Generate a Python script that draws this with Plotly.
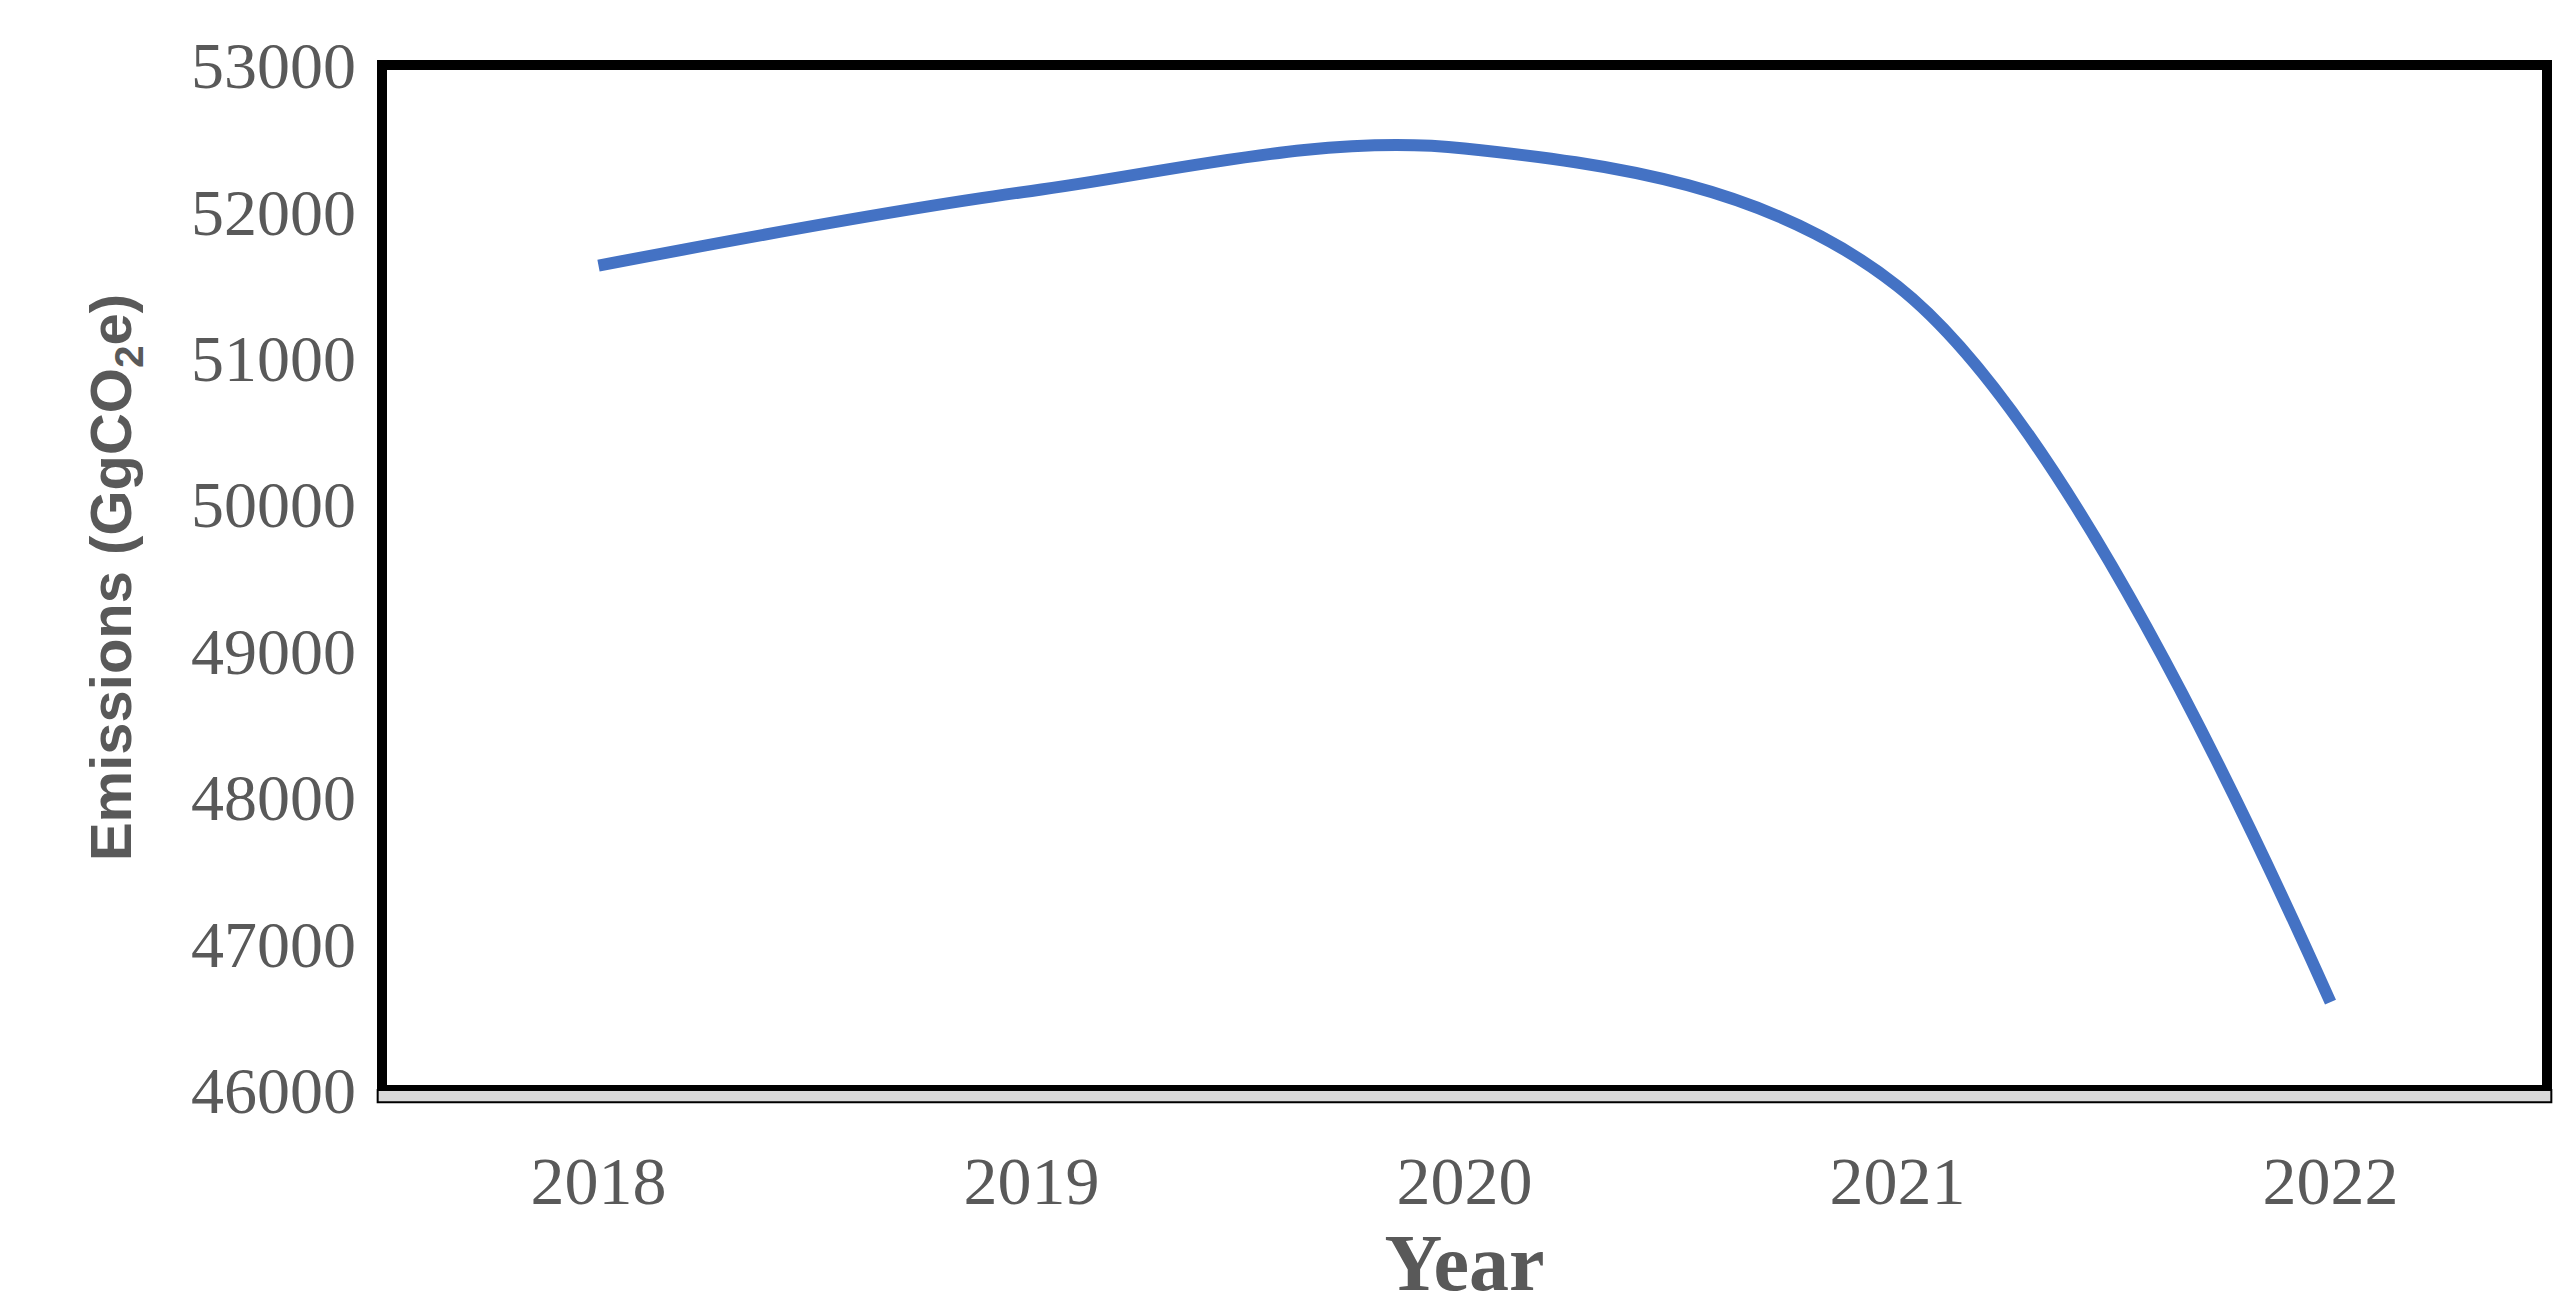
import plotly.graph_objects as go

years = ["2018", "2019", "2020", "2021", "2022"]
emissions = [51630, 52140, 52430, 51490, 46600]

fig = go.Figure(go.Scatter(x=years, y=emissions, mode="lines",
                           line=dict(color="#4472C4", width=12, shape="spline", smoothing=1.0)))
fig.update_layout(
    width=2563, height=1309, paper_bgcolor="white", plot_bgcolor="white",
    margin=dict(l=374, r=24, t=57, b=227), showlegend=False,
    font=dict(family="Liberation Serif", color="#595959"),
    xaxis=dict(type="category", range=[-0.5, 4.5], showgrid=False, ticks="",
               ticklabelstandoff=45,
               tickfont=dict(size=68, family="Liberation Serif", color="#595959"),
               title=dict(text="<b>Year</b>", font=dict(size=80, family="Liberation Serif", color="#595959"), standoff=10)),
    yaxis=dict(range=[46000, 53000], dtick=1000, tickformat="d", showgrid=False, ticks="", zeroline=False,
               ticklabelstandoff=25,
               tickfont=dict(size=66, family="Liberation Serif", color="#595959"),
               title=dict(text="<b>Emissions (GgCO<sub>2</sub>e)</b>", font=dict(size=58, family="Liberation Sans", color="#595959"), standoff=40)),
    shapes=[
        dict(type="rect", xref="paper", yref="paper", x0=0, x1=1, y0=0, y1=1,
             line=dict(color="black", width=10), layer="above"),
        dict(type="rect", xref="paper", yref="paper", x0=-0.002, x1=1.002, y0=-0.012, y1=0.0,
             fillcolor="#D9D9D9", line=dict(color="black", width=2), layer="above"),
    ],
)
fig.write_html("out.html")
